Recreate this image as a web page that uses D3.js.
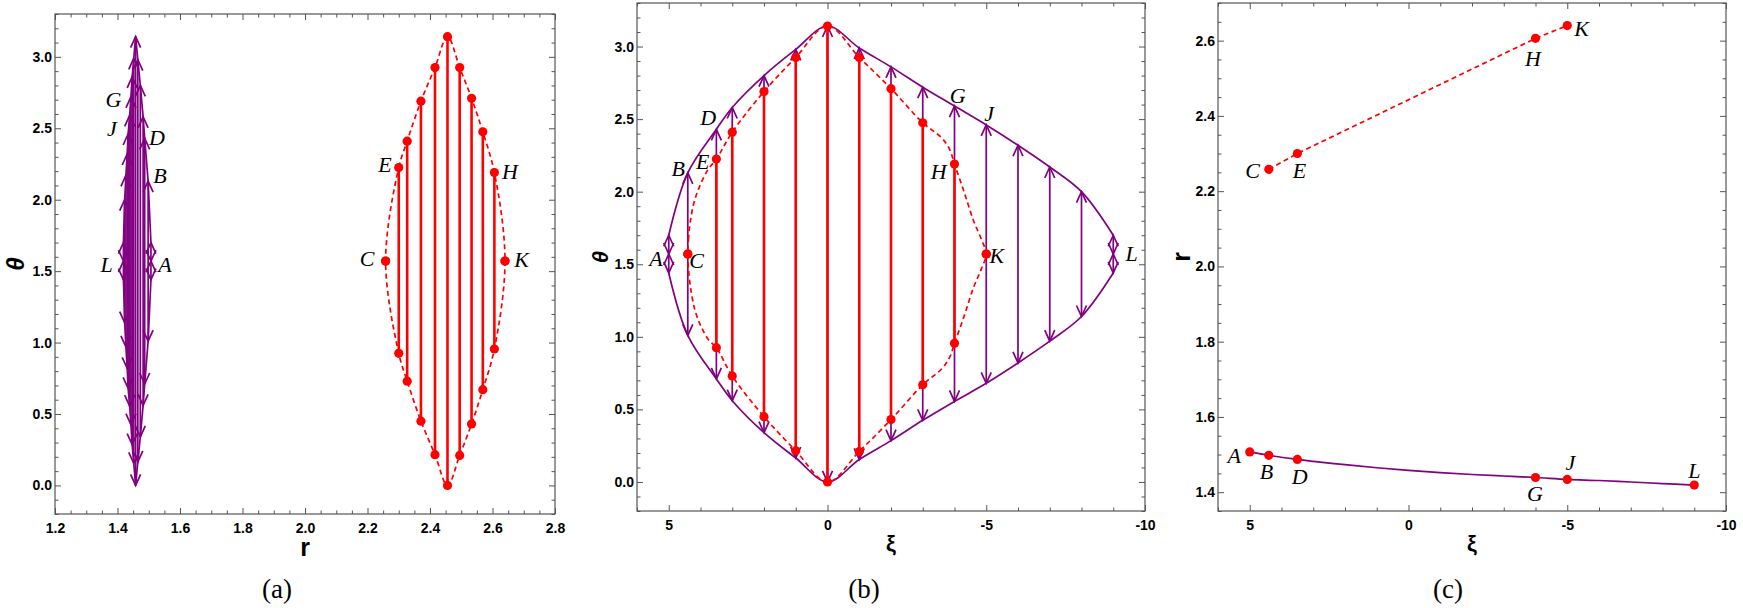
<!DOCTYPE html>
<html>
<head>
<meta charset="utf-8">
<script src="https://cdn.jsdelivr.net/npm/d3@7"></script>
<style>
  body { margin: 0; background: #fff; }
  svg { display: block; }
  .tick text { font-family: "Liberation Sans", Arial, sans-serif; font-weight: bold; font-size: 14px; fill: #000; }
  .tick line { stroke: #555; }
</style>
</head>
<body>
<svg id="fig" width="1743" height="608"></svg>
<script>
// ---- values ----
// purple branch: one double arrow per xi
const purpleLabel = ['A', 'B', 'D', '', '', '', '', '', '', '', 'G', 'J', '', '', '', 'L'];
const purpleXi    = [5, 4.4, 3.5, 3, 2, 1, 0, -1, -2, -3, -4, -5, -6, -7, -8, -9];
const purpleR     = [1.507, 1.498, 1.487, 1.482, 1.473, 1.465, 1.458, 1.452, 1.447, 1.443, 1.439, 1.434, 1.431, 1.427, 1.423, 1.419];
const purpleTop   = [1.70, 2.13, 2.43, 2.58, 2.80, 2.98, 3.1416, 2.99, 2.86, 2.72, 2.59, 2.46, 2.32, 2.17, 2.00, 1.70];
const purpleBot   = [1.44, 1.01, 0.71, 0.56, 0.34, 0.165, 0, 0.155, 0.285, 0.425, 0.555, 0.68, 0.82, 0.97, 1.14, 1.44];
const doubleHeaded = ['A', 'L'];

// red branch: one segment (dot at each end) per xi
const redLabel = ['C', 'E', '', '', '', '', '', '', '', 'H', 'K'];
const redXi    = [4.4, 3.5, 3, 2, 1, 0, -1, -2, -3, -4, -5];
const redR     = [2.258, 2.300, 2.327, 2.371, 2.416, 2.456, 2.495, 2.533, 2.569, 2.606, 2.640];
const redTop   = [1.5708, 2.225, 2.41, 2.69, 2.925, 3.1416, 2.925, 2.71, 2.475, 2.19, 1.5708];
const redBot   = [1.5708, 0.925, 0.73, 0.45, 0.215, 0, 0.21, 0.43, 0.67, 0.955, 1.5708];

// dashed boundary in (b) (closed loop)
const bDashXi    = [4.4, 4.38, 4.33, 4.21, 4.04, 3.77, 3.5, 3, 2, 1, 0, -1, -2, -3, -3.6, -3.85, -4, -4.3, -4.6, -4.85, -5,
                    -4.85, -4.6, -4.3, -4, -3.85, -3.6, -3, -2, -1, 0, 1, 2, 3, 3.5, 3.75, 3.98, 4.17, 4.30, 4.38];
const bDashTheta = [1.5708, 1.67, 1.78, 1.92, 2.03, 2.15, 2.225, 2.41, 2.69, 2.925, 3.1416, 2.925, 2.71, 2.475, 2.37, 2.29, 2.19, 2.0, 1.8, 1.67, 1.5708,
                    1.47, 1.34, 1.14, 0.955, 0.86, 0.78, 0.67, 0.43, 0.21, 0, 0.215, 0.45, 0.73, 0.925, 0.98, 1.07, 1.18, 1.32, 1.47];

// point labels
const aLabText  = ['G', 'J', 'D', 'B', 'L', 'A', 'E', 'H', 'C', 'K'];
const aLabR     = [1.387, 1.382, 1.526, 1.536, 1.365, 1.552, 2.256, 2.656, 2.199, 2.693];
const aLabTheta = [2.70, 2.50, 2.44, 2.17, 1.55, 1.55, 2.25, 2.20, 1.59, 1.58];

const bLabText  = ['A', 'C', 'B', 'E', 'D', 'G', 'J', 'H', 'K', 'L'];
const bLabXi    = [5.40, 4.12, 4.70, 3.93, 3.76, -4.10, -5.09, -3.50, -5.33, -9.58];
const bLabTheta = [1.54, 1.53, 2.16, 2.21, 2.515, 2.667, 2.54, 2.14, 1.565, 1.575];

const cLabText = ['C', 'E', 'H', 'K', 'A', 'B', 'D', 'G', 'J', 'L'];
const cLabXi   = [4.91, 3.43, -3.92, -5.45, 5.49, 4.47, 3.43, -3.98, -5.10, -9.0];
const cLabR    = [2.256, 2.256, 2.554, 2.632, 1.499, 1.455, 1.441, 1.398, 1.48, 1.457];

// tick labels
const aXTicks = [1.2, 1.4, 1.6, 1.8, 2.0, 2.2, 2.4, 2.6, 2.8];
const thetaTicks = [0, 0.5, 1.0, 1.5, 2.0, 2.5, 3.0];
const xiTicks = [5, 0, -5, -10];
const cYTicks = [1.4, 1.6, 1.8, 2.0, 2.2, 2.4, 2.6];

// ---- layout ----
const PURPLE = '#800080', RED = '#ff0000';
const svg = d3.select('#fig');

const boxA = {l: 55, r: 555, t: 14, b: 514};
const boxB = {l: 637, r: 1145, t: 3, b: 511};
const boxC = {l: 1218, r: 1726, t: 3, b: 511};

const xa = d3.scaleLinear([1.2, 2.8], [boxA.l, boxA.r]);
const ya = d3.scaleLinear([-0.2, 3.3], [boxA.b, boxA.t]);
const xb = d3.scaleLinear([6, -10], [boxB.l, boxB.r]);
const yb = d3.scaleLinear([-0.2, 3.3], [boxB.b, boxB.t]);
const xc = d3.scaleLinear([6, -10], [boxC.l, boxC.r]);
const yc = d3.scaleLinear([1.35, 2.7], [boxC.b, boxC.t]);

function frame(box, x, y, xMajor, xMinor, yMajor, yMinor, xFmt, yFmt) {
    const g = svg.append('g');
    const put = (axis, tx, ty, vals, size, fmt) => {
        const a = g.append('g').attr('transform', `translate(${tx},${ty})`)
            .call(axis.tickValues(vals).tickSize(size).tickPadding(size < -4 ? 9 : 0)
                .tickFormat(fmt || ''));
        a.select('.domain').remove();
        return a;
    };
    put(d3.axisBottom(x), 0, box.b, xMajor, -6, xFmt);
    put(d3.axisBottom(x), 0, box.b, xMinor, -3.5);
    put(d3.axisTop(x), 0, box.t, xMajor, -6);
    put(d3.axisTop(x), 0, box.t, xMinor, -3.5);
    put(d3.axisLeft(y), box.l, 0, yMajor, -6, yFmt).selectAll('text').attr('dx', '6');
    put(d3.axisLeft(y), box.l, 0, yMinor, -3.5);
    put(d3.axisRight(y), box.r, 0, yMajor, -6);
    put(d3.axisRight(y), box.r, 0, yMinor, -3.5);
    g.append('rect').attr('x', box.l).attr('y', box.t)
        .attr('width', box.r - box.l).attr('height', box.b - box.t)
        .attr('fill', 'none').attr('stroke', '#555').attr('stroke-width', 1.2);
    return g;
}

function minor(lo, hi, step, majors) {
    const n = Math.round((hi - lo) / step);
    return d3.range(n + 1).map(i => +(lo + i * step).toFixed(4))
        .filter(v => !majors.some(m => Math.abs(m - v) < 1e-6));
}

const f1 = d3.format('.1f');
frame(boxA, xa, ya, aXTicks, minor(1.2, 2.8, 0.05, aXTicks), thetaTicks, minor(-0.2, 3.3, 0.1, thetaTicks), f1, f1);
frame(boxB, xb, yb, xiTicks, minor(-10, 6, 1, xiTicks), thetaTicks, minor(-0.2, 3.3, 0.1, thetaTicks), d => d, f1);
frame(boxC, xc, yc, xiTicks, minor(-10, 6, 1, xiTicks), cYTicks, minor(1.35, 2.7, 0.05, cYTicks), d => d, f1);

// axis titles
function title(txt, x, y, size, rotate, italic) {
    const t = svg.append('text').text(txt)
        .attr('font-family', '"Liberation Sans", Arial, sans-serif')
        .attr('font-weight', 'bold').attr('font-size', size)
        .attr('font-style', italic ? 'italic' : 'normal')
        .attr('text-anchor', 'middle');
    if (rotate) t.attr('transform', `translate(${x},${y}) rotate(-90)`).attr('dy', '0.35em');
    else t.attr('x', x).attr('y', y);
}
title('r', (boxA.l + boxA.r) / 2, 556, 25);
title('θ', 16, (boxA.t + boxA.b) / 2, 24, true, true);
title('ξ', (boxB.l + boxB.r) / 2, 551, 22);
title('θ', 600, (boxB.t + boxB.b) / 2, 22, true, true);
title('ξ', (boxC.l + boxC.r) / 2, 551, 22);
title('r', 1181, (boxC.t + boxC.b) / 2, 25, true);

const sub = [['(a)', 277], ['(b)', 864], ['(c)', 1448]];
sub.forEach(([t, x]) => svg.append('text').text(t).attr('x', x).attr('y', 598)
    .attr('text-anchor', 'middle').attr('font-family', '"Liberation Serif", "Times New Roman", serif')
    .attr('font-size', 27));

// ---- marks ----
function head(g, x, y, s) {
    // s = 1 points up, s = -1 points down
    g.append('path').attr('d', `M${x - 5},${y + s * 11}L${x},${y}L${x + 5},${y + s * 11}`)
        .attr('fill', 'none').attr('stroke', PURPLE).attr('stroke-width', 1.7)
        .attr('stroke-linejoin', 'miter');
}

function purpleArrows(g, xs, ys) {
    purpleXi.forEach((_, i) => {
        const x = xs[i], y1 = ys(purpleTop[i]), y0 = ys(purpleBot[i]);
        g.append('line').attr('x1', x).attr('x2', x).attr('y1', y0).attr('y2', y1)
            .attr('stroke', PURPLE).attr('stroke-width', 1.7);
        head(g, x, y1, 1);
        head(g, x, y0, -1);
        if (doubleHeaded.includes(purpleLabel[i])) {
            const ym = ys(Math.PI / 2);
            head(g, x, ym, -1);
            head(g, x, ym, 1);
        }
    });
}

function purpleEdges(g, xs, ys, curve) {
    [purpleTop, purpleBot].forEach(arr => {
        g.append('path')
            .attr('d', d3.line().curve(curve)(purpleXi.map((_, i) => [xs[i], ys(arr[i])])))
            .attr('fill', 'none').attr('stroke', PURPLE).attr('stroke-width', 1.7);
    });
}

function redSegments(g, xs, ys) {
    redXi.forEach((_, i) => {
        g.append('line').attr('x1', xs[i]).attr('x2', xs[i])
            .attr('y1', ys(redBot[i])).attr('y2', ys(redTop[i]))
            .attr('stroke', RED).attr('stroke-width', 2.6);
    });
    redXi.forEach((_, i) => {
        [redTop[i], redBot[i]].forEach(t => g.append('circle')
            .attr('cx', xs[i]).attr('cy', ys(t)).attr('r', 4.6).attr('fill', RED));
    });
}

function dashed(g, pts, curve) {
    g.append('path').attr('d', d3.line().curve(curve)(pts))
        .attr('fill', 'none').attr('stroke', RED).attr('stroke-width', 1.7)
        .attr('stroke-dasharray', '5,3.5');
}

function labels(g, txt, px, py) {
    txt.forEach((t, i) => g.append('text').text(t).attr('x', px[i]).attr('y', py[i])
        .attr('dy', '0.35em').attr('text-anchor', 'middle')
        .attr('font-family', '"Liberation Serif", "Times New Roman", serif')
        .attr('font-style', 'italic').attr('font-size', 22));
}

// panel (a): r vs theta
const ga = svg.append('g');
const aPx = purpleR.map(r => xa(r));
purpleEdges(ga, aPx, ya, d3.curveLinear);
purpleArrows(ga, aPx, ya);
const aLoop = redXi.map((_, i) => [xa(redR[i]), ya(redTop[i])])
    .concat(redXi.slice(1, -1).map((_, j) => {
        const i = redXi.length - 2 - j;
        return [xa(redR[i]), ya(redBot[i])];
    }));
dashed(ga, aLoop, d3.curveCatmullRomClosed);
redSegments(ga, redR.map(r => xa(r)), ya);
labels(ga, aLabText, aLabR.map(r => xa(r)), aLabTheta.map(t => ya(t)));

// panel (b): xi vs theta
const gb = svg.append('g');
const bPx = purpleXi.map(v => xb(v));
purpleEdges(gb, bPx, yb, d3.curveCatmullRom);
purpleArrows(gb, bPx, yb);
dashed(gb, bDashXi.map((v, i) => [xb(v), yb(bDashTheta[i])]), d3.curveCatmullRomClosed);
redSegments(gb, redXi.map(v => xb(v)), yb);
labels(gb, bLabText, bLabXi.map(v => xb(v)), bLabTheta.map(t => yb(t)));

// panel (c): xi vs r
const gc = svg.append('g');
gc.append('path')
    .attr('d', d3.line().curve(d3.curveCatmullRom)(purpleXi.map((v, i) => [xc(v), yc(purpleR[i])])))
    .attr('fill', 'none').attr('stroke', PURPLE).attr('stroke-width', 1.7);
const redIdx = redLabel.map((l, i) => l ? i : -1).filter(i => i >= 0);
dashed(gc, redIdx.map(i => [xc(redXi[i]), yc(redR[i])]), d3.curveLinear);
purpleLabel.forEach((l, i) => {
    if (l) gc.append('circle').attr('cx', xc(purpleXi[i])).attr('cy', yc(purpleR[i])).attr('r', 4.6).attr('fill', RED);
});
redIdx.forEach(i => gc.append('circle').attr('cx', xc(redXi[i])).attr('cy', yc(redR[i])).attr('r', 4.6).attr('fill', RED));
labels(gc, cLabText, cLabXi.map(v => xc(v)), cLabR.map(r => yc(r)));
</script>
</body>
</html>
